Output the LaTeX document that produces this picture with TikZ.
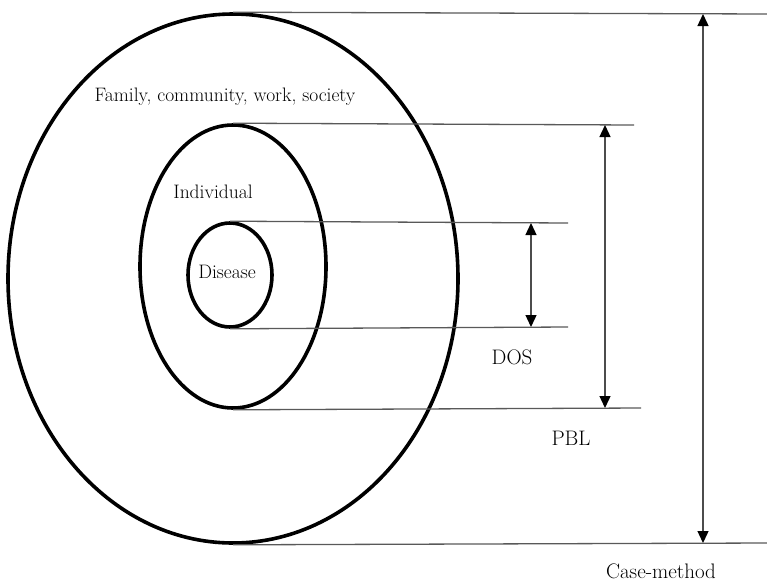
\documentclass[tikz,border=0pt]{standalone}
\usepackage{fontspec}
\usetikzlibrary{arrows.meta,shapes.geometric,positioning}
\begin{document}
\begin{tikzpicture}
	[x=1pt, y=-1pt, font=\fontsize{19.5}{23}\selectfont, inner sep=0pt,
	ring/.style		= {draw, ellipse, line width=3.6pt, inner sep=0pt},
	level/.style	= {draw=black!65, line width=1.3pt},
	span/.style		= {draw=black!70, line width=1.3pt, {Triangle[length=12pt,width=11pt,black]}-{Triangle[length=12pt,width=11pt,black]}},
	tag/.style		= {font=\fontsize{21}{25}\selectfont}]

	\useasboundingbox (0,0) rectangle (767,581);

	% the three rings
	\node [ring, minimum width=450pt, minimum height=529pt]	at (233,278.5)	(outer)	{};
	\node [ring, minimum width=186pt, minimum height=283pt]	at (233,266.5)	(middle){};
	\node [ring, minimum width=84pt,  minimum height=104pt]	at (230,275)	(inner)	{};

	\node at (225,97)	(fam)	{Family, community, work, society};
	\node at (213,192)	(ind)	{Individual};
	\node at (227,272)	(dis)	{Disease};

	% level lines
	\coordinate (otop) at (767,14);
	\coordinate (obot) at (767,543);
	\coordinate (mtop) at (634,125);
	\coordinate (mbot) at (641,408);
	\coordinate (itop) at (568,223);
	\coordinate (ibot) at (568,327);

	\draw [level] (outer.north) -- (otop);
	\draw [level] (outer.south) -- (obot);
	\draw [level] (middle.north) -- (mtop);
	\draw [level] (middle.south) -- (mbot);
	\draw [level] (inner.north) -- (itop);
	\draw [level] (inner.south) -- (ibot);

	% spans
	\coordinate (cmup) at (703,14);
	\coordinate (cmdn) at (703,543);
	\coordinate (pblup) at (605,125);
	\coordinate (pbldn) at (605,408);
	\coordinate (dosup) at (531,223);
	\coordinate (dosdn) at (531,327);

	\draw [span] (cmup) -- (cmdn);
	\draw [span] (pblup) -- (pbldn);
	\draw [span] (dosup) -- (dosdn);

	\node [tag] at (512,357)	(dos)	{DOS};
	\node [tag] at (571,438)	(pbl)	{PBL};
	\node [tag] at (661,571)	(cm)	{Case-method};
\end{tikzpicture}
\end{document}
